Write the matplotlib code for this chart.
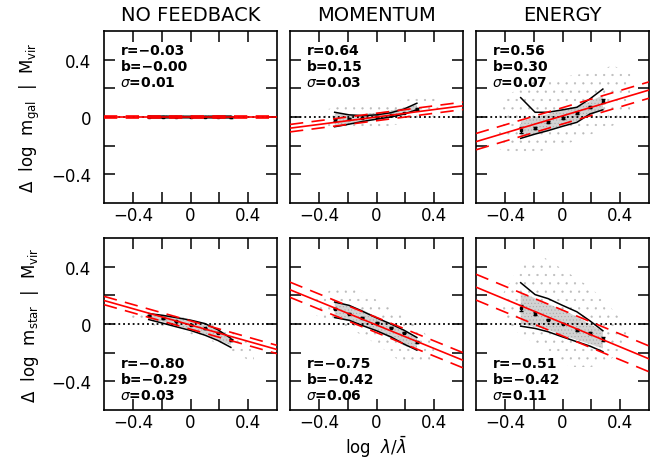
import matplotlib
matplotlib.use('Agg')
import matplotlib.pyplot as plt

plt.rcParams['font.family'] = 'DejaVu Sans'
plt.rcParams['mathtext.fontset'] = 'dejavusans'
plt.rcParams['hatch.linewidth'] = 0.35

titles = ['NO FEEDBACK', 'MOMENTUM', 'ENERGY']
row_labels = [r'$\Delta$  log  m$_{\rm gal}$  |  M$_{\rm vir}$',
              r'$\Delta$  log  m$_{\rm star}$  |  M$_{\rm vir}$']

# panel order: top row (m_gal) then bottom row (m_star), left to right
r_vals = [-0.03, 0.64, 0.56, -0.80, -0.75, -0.51]
b_vals = [-0.00, 0.15, 0.30, -0.29, -0.42, -0.42]
sig_vals = [0.01, 0.03, 0.07, 0.03, 0.06, 0.11]

# red fit lines
fit_slope = [0.0, 0.13, 0.30, -0.285, -0.41, -0.417]
fit_icept = [0.0, 0.0, 0.008, -0.007, -0.007, 0.007]
fit_band = [0.008, 0.026, 0.057, 0.029, 0.053, 0.09]

# binned medians with error bars and the 16/84 percentile curves
bin_x = [-0.29, -0.19, -0.1, 0.0, 0.1, 0.19, 0.28]
med_y = [[0.002, 0.001, 0.0, 0.0, 0.0, -0.001, -0.002],
         [-0.021, -0.012, -0.006, 0.002, 0.012, 0.028, 0.056],
         [-0.089, -0.075, -0.037, -0.007, 0.026, 0.068, 0.112],
         [0.059, 0.04, 0.02, -0.005, -0.03, -0.06, -0.11],
         [0.108, 0.071, 0.045, 0.01, -0.026, -0.061, -0.123],
         [0.112, 0.073, 0.031, 0.003, -0.043, -0.061, -0.105]]
med_err = [[0.002, 0.001, 0.001, 0.001, 0.001, 0.001, 0.002],
           [0.004, 0.002, 0.002, 0.002, 0.002, 0.003, 0.005],
           [0.02, 0.008, 0.006, 0.005, 0.006, 0.008, 0.015],
           [0.004, 0.003, 0.002, 0.002, 0.003, 0.004, 0.006],
           [0.006, 0.004, 0.003, 0.003, 0.003, 0.004, 0.007],
           [0.023, 0.008, 0.006, 0.005, 0.006, 0.008, 0.015]]
pct_hi = [[0.006, 0.006, 0.005, 0.005, 0.005, 0.006, 0.006],
          [0.033, 0.015, 0.009, 0.015, 0.03, 0.055, 0.096],
          [0.135, 0.033, 0.033, 0.05, 0.068, 0.126, 0.195],
          [0.073, 0.06, 0.045, 0.027, 0.003, -0.04, -0.1],
          [0.153, 0.13, 0.09, 0.043, 0.0, -0.043, -0.094],
          [0.288, 0.205, 0.177, 0.13, 0.085, 0.022, -0.047]]
pct_lo = [[-0.006, -0.006, -0.005, -0.005, -0.005, -0.006, -0.006],
          [-0.068, -0.05, -0.032, -0.015, 0.0, 0.02, 0.051],
          [-0.149, -0.119, -0.095, -0.065, -0.037, 0.021, 0.05],
          [0.031, 0.005, -0.019, -0.045, -0.078, -0.115, -0.163],
          [0.045, 0.026, -0.01, -0.047, -0.09, -0.14, -0.182],
          [-0.015, -0.031, -0.054, -0.09, -0.124, -0.154, -0.193]]

# extent of the point cloud: sparse outer envelope and dense core
cloud_x = [[-0.34, -0.2, -0.1, 0.0, 0.1, 0.2, 0.34],
           [-0.36, -0.25, -0.1, 0.05, 0.2, 0.35, 0.44],
           [-0.45, -0.35, -0.2, 0.0, 0.2, 0.35, 0.47],
           [-0.42, -0.3, -0.15, 0.0, 0.15, 0.3, 0.44],
           [-0.42, -0.3, -0.15, 0.0, 0.15, 0.3, 0.4],
           [-0.42, -0.3, -0.12, 0.05, 0.2, 0.33, 0.45]]
cloud_hi = [[0.008, 0.014, 0.015, 0.015, 0.015, 0.014, 0.008],
            [0.05, 0.075, 0.08, 0.09, 0.12, 0.15, 0.17],
            [0.05, 0.17, 0.25, 0.28, 0.31, 0.36, 0.3],
            [0.07, 0.085, 0.07, 0.035, 0.0, -0.05, -0.16],
            [0.17, 0.25, 0.24, 0.17, 0.08, -0.03, -0.13],
            [0.2, 0.4, 0.46, 0.35, 0.25, 0.12, -0.02]]
cloud_lo = [[-0.012, -0.022, -0.03, -0.035, -0.03, -0.022, -0.012],
            [-0.06, -0.1, -0.095, -0.07, -0.04, -0.01, 0.02],
            [-0.22, -0.25, -0.25, -0.2, -0.12, -0.06, 0.0],
            [0.02, 0.0, -0.03, -0.07, -0.12, -0.2, -0.27],
            [0.06, 0.01, -0.05, -0.14, -0.25, -0.28, -0.28],
            [0.05, -0.07, -0.18, -0.3, -0.3, -0.25, -0.15]]
core_hi = [[0.006, 0.007, 0.007, 0.007, 0.007, 0.007, 0.006],
           [0.025, 0.02, 0.02, 0.03, 0.045, 0.065, 0.085],
           [-0.03, 0.0, 0.02, 0.05, 0.07, 0.11, 0.15],
           [0.07, 0.06, 0.045, 0.025, 0.0, -0.04, -0.09],
           [0.16, 0.13, 0.1, 0.05, 0.0, -0.05, -0.09],
           [0.22, 0.18, 0.14, 0.1, 0.05, 0.0, -0.05]]
core_lo = [[-0.008, -0.009, -0.01, -0.01, -0.01, -0.009, -0.008],
           [-0.06, -0.05, -0.035, -0.02, -0.005, 0.015, 0.04],
           [-0.14, -0.12, -0.09, -0.06, -0.03, 0.01, 0.05],
           [0.035, 0.015, -0.01, -0.04, -0.07, -0.11, -0.15],
           [0.04, 0.02, -0.01, -0.05, -0.1, -0.15, -0.18],
           [0.0, -0.02, -0.04, -0.08, -0.11, -0.14, -0.17]]

W, H = 664, 477
fig = plt.figure(figsize=(W / 100, H / 100), dpi=100)

col_left = [104, 290, 476]
row_top = [32, 239]
pw, ph = 173, 172


def fmt(v):
    return f'{v:.2f}'.replace('-', '\u2212')


for k in range(6):
    row, col = divmod(k, 3)
    ax = fig.add_axes([col_left[col] / W, 1 - (row_top[row] + ph) / H, pw / W, ph / H])

    ax.fill_between(cloud_x[k], cloud_lo[k], cloud_hi[k], facecolor='none',
                    edgecolor='#bababa', hatch='..', linewidth=0, zorder=1)
    ax.fill_between(bin_x, core_lo[k], core_hi[k], facecolor='#d2d2d2',
                    edgecolor='#a6a6a6', hatch='.....', linewidth=0, zorder=1.5)

    ax.axhline(0, color='k', ls=':', lw=1.3, zorder=2)
    ax.plot(bin_x, pct_hi[k], color='k', lw=1.1, zorder=3)
    ax.plot(bin_x, pct_lo[k], color='k', lw=1.1, zorder=3)
    ax.errorbar(bin_x, med_y[k], yerr=med_err[k], fmt='s', ms=1.8, color='k',
                ecolor='k', elinewidth=0.9, capsize=1.5, zorder=3)

    a, s, d = fit_icept[k], fit_slope[k], fit_band[k]
    ax.axline((0, a), slope=s, color='red', lw=1.2, zorder=4)
    for off in (-d, d):
        ax.axline((0, a + off), slope=s, color='red', lw=1.2, dashes=(8, 5), zorder=4)

    ax.set_xlim(-0.6, 0.6)
    ax.set_ylim(-0.6, 0.6)
    ticks = [-0.4, -0.2, 0, 0.2, 0.4]
    labels = ['\u22120.4', '', '0', '', '0.4']
    ax.set_xticks(ticks)
    ax.set_xticklabels(labels)
    ax.set_yticks(ticks)
    if col == 0:
        ax.set_yticklabels(labels)
    else:
        ax.set_yticklabels([])
    ax.tick_params(direction='in', length=8, width=1.1, top=True, right=True,
                   labelsize=12, pad=2.5)
    ax.tick_params(axis='y', pad=9)
    for sp in ax.spines.values():
        sp.set_linewidth(1.2)

    stats = '\n'.join(['r=' + fmt(r_vals[k]), 'b=' + fmt(b_vals[k]),
                       r'$\sigma$=' + fmt(sig_vals[k])])
    if row == 0:
        ax.set_title(titles[col], fontsize=14, pad=8)
        ax.text(0.095, 0.93, stats, transform=ax.transAxes, fontsize=10,
                fontweight='bold', va='top', linespacing=1.2)
    else:
        ax.text(0.095, 0.045, stats, transform=ax.transAxes, fontsize=10,
                fontweight='bold', va='bottom', linespacing=1.2)

fig.text(30 / W, 1 - 118 / H, row_labels[0], rotation=90, ha='center', va='center', fontsize=12)
fig.text(30 / W, 1 - 325 / H, row_labels[1], rotation=90, ha='center', va='center', fontsize=12)
fig.text(376 / W, 1 - 447 / H, r'log  $\lambda/\bar{\lambda}$', ha='center', va='center', fontsize=12)

fig.savefig('out.png', dpi=100)
